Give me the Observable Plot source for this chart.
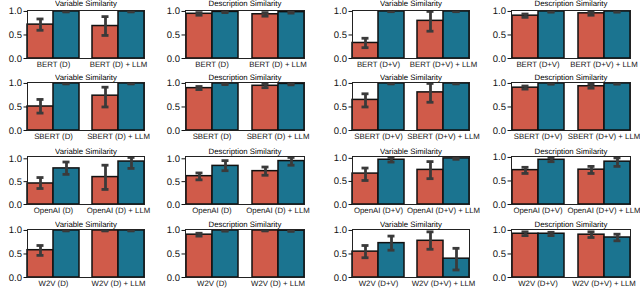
<!DOCTYPE html>
<html><head><meta charset="utf-8">
<script src="https://cdn.jsdelivr.net/npm/d3@7"></script>
<script src="https://cdn.jsdelivr.net/npm/@observablehq/plot@0.6"></script>
<style>
body{margin:0;background:#fff}
#chart{position:relative;width:640px;height:292px;overflow:hidden;background:#fff}
#chart svg{position:absolute;overflow:visible}
#chart svg text{-webkit-font-smoothing:antialiased;text-rendering:geometricPrecision}
</style></head><body><div id="chart"></div>
<script>
// ---- data ----
const models = ["BERT", "SBERT", "OpenAI", "W2V"];
const inputs = ["D", "D", "D+V", "D+V"];
const metrics = ["Variable Similarity", "Description Similarity", "Variable Similarity", "Description Similarity"];
const series = ["Baseline", "Ours"];
// order within each panel: [base, ours] for "(X)" then [base, ours] for "(X) + LLM"
const means = [
  [[0.72, 1.00, 0.69, 1.00], [0.95, 0.99, 0.94, 0.985], [0.33, 1.00, 0.80, 1.00], [0.91, 1.00, 0.96, 1.00]],
  [[0.51, 1.00, 0.74, 1.00], [0.90, 1.00, 0.95, 0.99], [0.65, 1.00, 0.81, 1.00], [0.91, 1.00, 0.94, 1.00]],
  [[0.46, 0.79, 0.60, 0.94], [0.62, 0.845, 0.73, 0.95], [0.67, 0.97, 0.75, 1.00], [0.73, 0.95, 0.74, 0.91]],
  [[0.58, 1.00, 1.00, 1.00], [0.91, 1.00, 1.00, 0.995], [0.55, 0.73, 0.78, 0.40], [0.93, 0.93, 0.91, 0.85]]
];
const lows = [
  [[0.60, 0.99, 0.49, 0.99], [0.92, 0.975, 0.90, 0.965], [0.23, 0.995, 0.58, 0.995], [0.875, 0.985, 0.92, 0.985]],
  [[0.37, 0.99, 0.50, 0.99], [0.87, 0.975, 0.91, 0.97], [0.50, 0.99, 0.60, 0.99], [0.88, 0.985, 0.90, 0.985]],
  [[0.35, 0.66, 0.33, 0.79], [0.54, 0.74, 0.64, 0.86], [0.52, 0.92, 0.56, 0.98], [0.66, 0.91, 0.66, 0.81]],
  [[0.47, 0.99, 0.99, 0.99], [0.88, 0.985, 0.99, 0.98], [0.42, 0.58, 0.60, 0.16], [0.89, 0.89, 0.85, 0.78]]
];
const highs = [
  [[0.84, 1.00, 0.89, 1.00], [0.975, 1.00, 0.975, 1.00], [0.43, 1.00, 1.00, 1.00], [0.945, 1.00, 0.995, 1.00]],
  [[0.66, 1.00, 0.92, 1.00], [0.935, 1.00, 0.985, 1.00], [0.78, 1.00, 1.00, 1.00], [0.945, 1.00, 0.985, 1.00]],
  [[0.59, 0.93, 0.86, 1.03], [0.69, 0.96, 0.82, 1.03], [0.79, 1.02, 0.93, 1.01], [0.79, 0.99, 0.81, 0.99]],
  [[0.68, 1.00, 1.00, 1.00], [0.94, 1.00, 1.00, 1.00], [0.68, 0.88, 0.97, 0.62], [0.97, 0.96, 0.97, 0.92]]
];
const yTicks = [0, 0.5, 1.0];
const colors = ["#d05b4a", "#1b7490"];

// ---- layout ----
const frameTop = [9.5, 81.5, 156, 229];
const titleDy = [-4.5, -2.5, -2.5, -2.5];
const frameH = 48;
const frameLeft = [26, 183, 346, 504.5];
const frameRight = [151.5, 310.5, 477, 637.5];
const fxPad = [[0.06, 0.1], [0.065, 0.2], [0.1, 0.45], [0.1, 0.4]];
const ml = 28, mr = 4, mt = 14, mb = 16;
const font = "'Liberation Sans', Arial, sans-serif";
const ink = "#3a3a3a";

const chart = document.getElementById("chart");
for (let r = 0; r < 4; r++) {
  for (let c = 0; c < 4; c++) {
    const base = `${models[r]} (${inputs[c]})`;
    const cats = [base, `${base} + LLM`];
    const rows = [];
    for (let i = 0; i < 4; i++) {
      rows.push({cat: cats[Math.floor(i / 2)], s: series[i % 2],
        mean: means[r][c][i], lo: lows[r][c][i], hi: highs[r][c][i]});
    }
    const ymax = Math.max(1, d3.max(rows, d => d.hi)) * 1.02;
    const W = frameRight[c] - frameLeft[c];
    const svg = Plot.plot({
      width: W + ml + mr, height: frameH + mt + mb,
      marginLeft: ml, marginRight: mr, marginTop: mt, marginBottom: mb,
      style: {fontFamily: font, fontSize: "7.8px", background: "transparent", color: "#111"},
      fx: {domain: cats, paddingInner: 0.2, paddingOuter: fxPad[c][0], align: fxPad[c][1]},
      x: {domain: series, axis: null, padding: 0},
      y: {domain: [0, ymax]},
      color: {domain: series, range: colors},
      marks: [
        Plot.barY(rows, {fx: "cat", x: "s", y: "mean", fill: "s", stroke: "#111", strokeWidth: 1.5}),
        Plot.ruleX(rows, {fx: "cat", x: "s", y1: "lo", y2: "hi", stroke: ink, strokeWidth: 2.8}),
        Plot.tickY(rows, {fx: "cat", x: "s", y: "lo", stroke: ink, strokeWidth: 2.8, insetLeft: 9.5, insetRight: 9.5}),
        Plot.tickY(rows, {fx: "cat", x: "s", y: "hi", stroke: ink, strokeWidth: 2.8, insetLeft: 9.5, insetRight: 9.5}),
        Plot.frame({facet: "super", stroke: "#222", strokeWidth: 1}),
        Plot.axisY({ticks: yTicks, tickFormat: ".1f", label: null, tickSize: 3.5, tickPadding: 2, fontSize: 9.5, fill: "#111"}),
        Plot.axisFx({anchor: "bottom", label: null, tickSize: 0, tickPadding: 2.5, fontSize: 7.8, fill: "#111"}),
        Plot.text([metrics[c]], {facet: "super", frameAnchor: "top", lineAnchor: "bottom", dy: titleDy[r], fill: "#000", stroke: "none", fontSize: 7.8, opacity: 0.999})
      ]
    });
    svg.style.left = (frameLeft[c] - ml) + "px";
    svg.style.top = (frameTop[r] - mt) + "px";
    chart.appendChild(svg);
  }
}
</script>
</body></html>
